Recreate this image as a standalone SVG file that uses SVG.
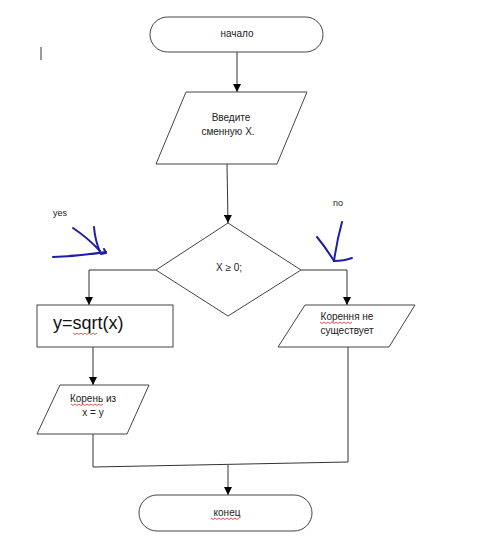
<svg xmlns="http://www.w3.org/2000/svg" width="500" height="538" viewBox="0 0 500 538">
<defs>
<marker id="ah" markerWidth="8" markerHeight="8" refX="8" refY="4" orient="auto" markerUnits="userSpaceOnUse" viewBox="0 0 8 8">
<path d="M0,0 L8,4 L0,8 Z" fill="#000"/>
</marker>
</defs>
<style>
.shape{fill:#fff;stroke:#444;stroke-width:1}
.line{fill:none;stroke:#333;stroke-width:1}
.t{font-family:"Liberation Sans",Arial,sans-serif;font-size:10px;fill:#222;text-anchor:middle}
.blue{fill:none;stroke:#1e1ea8;stroke-width:2;stroke-linecap:round;stroke-linejoin:round}
.squig{fill:none;stroke:#d03030;stroke-width:0.8}
</style>
<rect width="500" height="538" fill="#fff"/>
<line x1="41" y1="47" x2="41" y2="60" stroke="#555" stroke-width="1.2"/>
<g id="connectors">
<line class="line" x1="237" y1="52" x2="237" y2="92" marker-end="url(#ah)"/>
<line class="line" x1="227" y1="164" x2="228" y2="223" marker-end="url(#ah)"/>
<polyline class="line" points="156,270 89,270 89,305" marker-end="url(#ah)"/>
<polyline class="line" points="301,270 347,270 347,305" marker-end="url(#ah)"/>
<line class="line" x1="93" y1="347" x2="93" y2="385" marker-end="url(#ah)"/>
<polyline class="line" points="93,434 93,467 348,462"/>
<line class="line" x1="348" y1="347" x2="348" y2="462"/>
<line class="line" x1="228" y1="465" x2="228" y2="495" marker-end="url(#ah)"/>
</g>
<g id="start">
<rect class="shape" x="150" y="17" width="173" height="35" rx="17.5"/>
<text class="t" x="237" y="37">начало</text>
</g>
<g id="input">
<polygon class="shape" points="186,92 307,92 277,164 156,164"/>
<text class="t" x="231" y="121">Введите</text>
<text class="t" x="228" y="135">сменную X.</text>
</g>
<g id="decision">
<polygon class="shape" points="228,223 301,270 228,316 156,270"/>
<text class="t" x="229" y="271">X ≥ 0;</text>
</g>
<g id="compute">
<rect class="shape" x="37" y="305" width="136" height="42"/>
<text x="53" y="329" style="font-family:'Liberation Sans',Arial,sans-serif;font-size:18px;fill:#111">y=sqrt(x)</text>
<path class="squig" d="M73,333 l2,1.5 l2,-1.5 l2,1.5 l2,-1.5 l2,1.5 l2,-1.5 l2,1.5 l2,-1.5 l2,1.5 l2,-1.5 l2,1.5 l2,-1.5"/>
</g>
<g id="output-root">
<polygon class="shape" points="60,385 149,385 127,434 37,434"/>
<text class="t" x="93" y="402">Корень из</text>
<text class="t" x="93" y="416">x = y</text>
<path class="squig" d="M71,404 l2,1.5 l2,-1.5 l2,1.5 l2,-1.5 l2,1.5 l2,-1.5 l2,1.5 l2,-1.5 l2,1.5 l2,-1.5 l2,1.5 l2,-1.5 l2,1.5 l2,-1.5 l2,1.5 l2,-1.5"/>
</g>
<g id="output-none">
<polygon class="shape" points="305,305 415,305 389,347 278,347"/>
<text class="t" x="347" y="320">Корення не</text>
<text class="t" x="347" y="334">существует</text>
<path class="squig" d="M320,322 l2,1.5 l2,-1.5 l2,1.5 l2,-1.5 l2,1.5 l2,-1.5 l2,1.5 l2,-1.5 l2,1.5 l2,-1.5 l2,1.5 l2,-1.5 l2,1.5 l2,-1.5 l2,1.5 l2,-1.5"/>
</g>
<g id="end">
<rect class="shape" x="139" y="495" width="173" height="36" rx="18"/>
<text class="t" x="227" y="516">конец</text>
<path class="squig" d="M211,518 l2,1.5 l2,-1.5 l2,1.5 l2,-1.5 l2,1.5 l2,-1.5 l2,1.5 l2,-1.5 l2,1.5 l2,-1.5 l2,1.5 l2,-1.5 l2,1.5 l2,-1.5"/>
</g>
<g id="annotations">
<text class="t" x="60" y="216" style="font-size:9px">yes</text>
<text class="t" x="338" y="206" style="font-size:9px">no</text>
<path class="blue" d="M53,257 Q80,256 106,252"/>
<path class="blue" d="M73,228 Q88,238 100,251"/>
<path class="blue" d="M94,227 Q95,240 100,252"/>
<path class="blue" d="M104,249 L106,253 L101,254"/>
<path class="blue" d="M342,222 Q337,240 334,261"/>
<path class="blue" d="M317,237 Q326,248 334,261"/>
<path class="blue" d="M334,261 Q344,261 352,258"/>
</g>
</svg>
